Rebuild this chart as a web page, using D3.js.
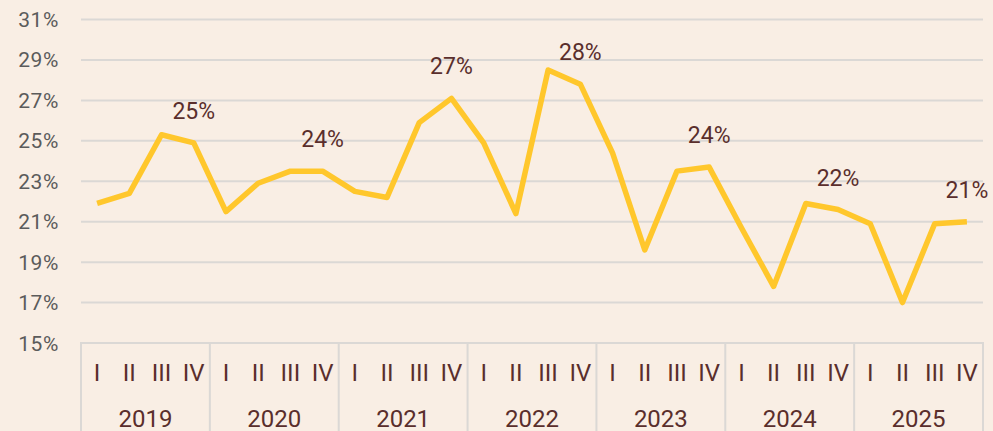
<!DOCTYPE html>
<html>
<head>
<meta charset="utf-8">
<script src="https://cdn.jsdelivr.net/npm/d3@7"></script>
<style>
    html, body { margin: 0; padding: 0; background: #f9eee4; }
    svg { display: block; font-family: Roboto, "Noto Sans", sans-serif; }
    .tick-label { fill: #5b5b5b; font-size: 21px; letter-spacing: 0.6px; }
    .data-label { fill: #5a2e2c; font-size: 23px; }
    .axis-label { fill: #5a2e2c; font-size: 24px; }
    .grid line { stroke: #dbd8d5; stroke-width: 2; }
</style>
</head>
<body>
<div id="chart"></div>
<script>
// Chart data
const years = ["2019", "2020", "2021", "2022", "2023", "2024", "2025"];
const quarters = ["I", "II", "III", "IV"];
const values = [
    21.9, 22.4, 25.3, 24.9,
    21.5, 22.9, 23.5, 23.5,
    22.5, 22.2, 25.9, 27.1,
    24.9, 21.4, 28.5, 27.8,
    24.4, 19.6, 23.5, 23.7,
    20.7, 17.8, 21.9, 21.6,
    20.9, 17.0, 20.9, 21.0
];
const yTicks = [15, 17, 19, 21, 23, 25, 27, 29, 31];

(() => {
    const width = 993;
    const height = 431;
    const margin = { left: 81, right: 10, top: 19.5, bottom: 88 };

    const svg = d3.select("#chart")
        .append("svg")
        .attr("width", width)
        .attr("height", height);

    svg.append("rect")
        .attr("width", width)
        .attr("height", height)
        .attr("fill", "#f9eee4");

    // Builds one row per quarter
    const data = [];
    years.forEach((year, i) => {
        quarters.forEach((q, j) => {
            data.push({ year: year, quarter: q, key: year + "-" + q, value: values[i * 4 + j] });
        });
    });

    const x = d3.scaleBand()
        .domain(data.map(d => d.key))
        .range([margin.left, width - margin.right])
        .padding(0);

    const xYear = d3.scaleBand()
        .domain(years)
        .range([margin.left, width - margin.right])
        .padding(0);

    const y = d3.scaleLinear()
        .domain([15, 31])
        .range([height - margin.bottom, margin.top]);

    // Horizontal gridlines
    svg.append("g")
        .classed("grid", true)
        .selectAll("line")
        .data(yTicks)
        .enter()
        .append("line")
        .attr("x1", margin.left)
        .attr("x2", width - margin.right)
        .attr("y1", d => y(d))
        .attr("y2", d => y(d));

    // Y tick labels
    svg.append("g")
        .selectAll("text")
        .data(yTicks)
        .enter()
        .append("text")
        .classed("tick-label", true)
        .attr("x", 59)
        .attr("y", d => y(d))
        .attr("dy", "0.36em")
        .style("text-anchor", "end")
        .text(d => d + "%");

    // Year separators in the category axis box
    const sepX = years.map(yr => xYear(yr)).concat([width - margin.right]);
    svg.append("g")
        .classed("grid", true)
        .selectAll("line")
        .data(sepX)
        .enter()
        .append("line")
        .attr("x1", d => d)
        .attr("x2", d => d)
        .attr("y1", y(15) - 1)
        .attr("y2", height);

    // Quarter labels
    svg.append("g")
        .selectAll("text")
        .data(data)
        .enter()
        .append("text")
        .classed("axis-label", true)
        .attr("x", d => x(d.key) + x.bandwidth() / 2)
        .attr("y", 381)
        .style("text-anchor", "middle")
        .text(d => d.quarter);

    // Year labels
    svg.append("g")
        .selectAll("text")
        .data(years)
        .enter()
        .append("text")
        .classed("axis-label", true)
        .attr("x", d => xYear(d) + xYear.bandwidth() / 2)
        .attr("y", 427)
        .style("text-anchor", "middle")
        .text(d => d);

    // The line
    const line = d3.line()
        .x(d => x(d.key) + x.bandwidth() / 2)
        .y(d => y(d.value));

    svg.append("path")
        .datum(data)
        .attr("fill", "none")
        .attr("stroke", "#ffc72c")
        .attr("stroke-width", 5.5)
        .attr("stroke-linejoin", "round")
        .attr("d", line);

    // Q4 value labels
    svg.append("g")
        .selectAll("text")
        .data(data.filter(d => d.quarter === "IV"))
        .enter()
        .append("text")
        .classed("data-label", true)
        .attr("x", d => x(d.key) + x.bandwidth() / 2)
        .attr("y", d => y(d.value) - 24)
        .style("text-anchor", "middle")
        .text(d => d3.format(".0f")(d.value) + "%");
})();
</script>
</body>
</html>
